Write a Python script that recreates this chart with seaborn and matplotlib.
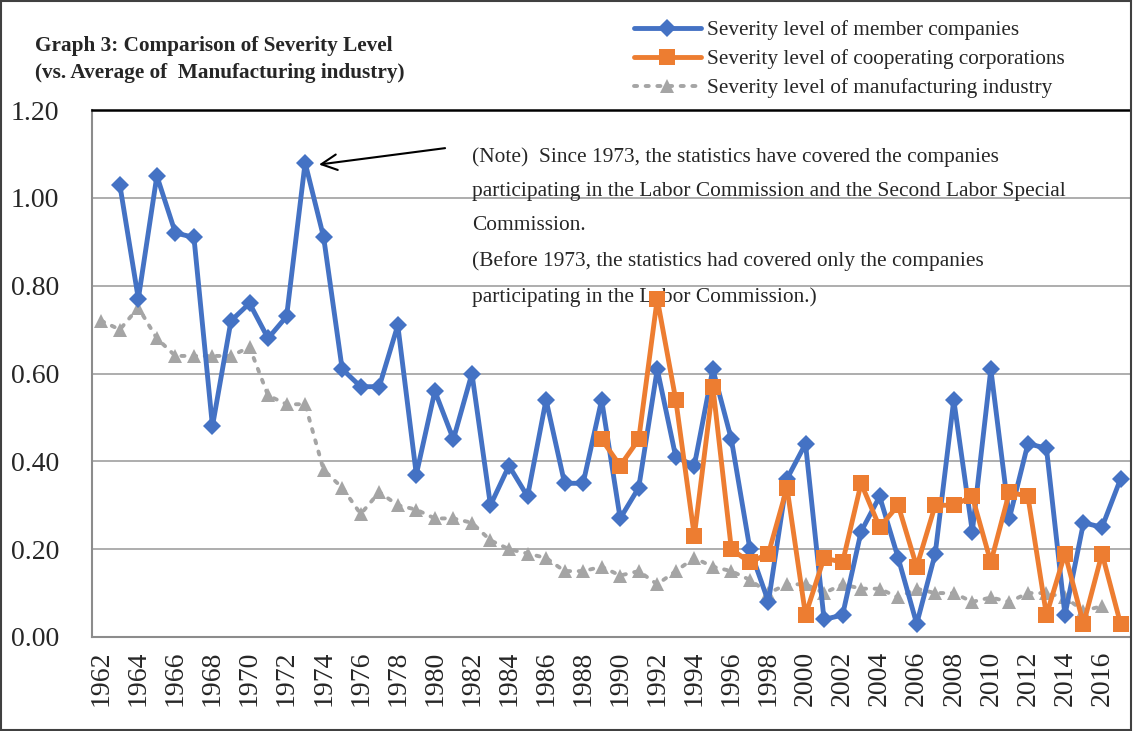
import matplotlib
matplotlib.use("Agg")
import matplotlib.pyplot as plt
import seaborn as sns
import pandas as pd
from matplotlib.patches import Rectangle

member_years = list(range(1963, 2018))
member = [1.03, 0.77, 1.05, 0.92, 0.91, 0.48, 0.72, 0.76, 0.68, 0.73,
          1.08, 0.91, 0.61, 0.57, 0.57, 0.71, 0.37, 0.56, 0.45, 0.60,
          0.30, 0.39, 0.32, 0.54, 0.35, 0.35, 0.54, 0.27, 0.34, 0.61,
          0.41, 0.39, 0.61, 0.45, 0.20, 0.08, 0.36, 0.44, 0.04, 0.05,
          0.24, 0.32, 0.18, 0.03, 0.19, 0.54, 0.24, 0.61, 0.27, 0.44,
          0.43, 0.05, 0.26, 0.25, 0.36]

coop_years = list(range(1989, 2018))
coop = [0.45, 0.39, 0.45, 0.77, 0.54, 0.23, 0.57, 0.20, 0.17, 0.19,
        0.34, 0.05, 0.18, 0.17, 0.35, 0.25, 0.30, 0.16, 0.30, 0.30,
        0.32, 0.17, 0.33, 0.32, 0.05, 0.19, 0.03, 0.19, 0.03]

manuf_years = list(range(1962, 2017))
manuf = [0.72, 0.70, 0.75, 0.68, 0.64, 0.64, 0.64, 0.64, 0.66, 0.55,
         0.53, 0.53, 0.38, 0.34, 0.28, 0.33, 0.30, 0.29, 0.27, 0.27,
         0.26, 0.22, 0.20, 0.19, 0.18, 0.15, 0.15, 0.16, 0.14, 0.15,
         0.12, 0.15, 0.18, 0.16, 0.15, 0.13, 0.10, 0.12, 0.12, 0.10,
         0.12, 0.11, 0.11, 0.09, 0.11, 0.10, 0.10, 0.08, 0.09, 0.08,
         0.10, 0.10, 0.09, 0.06, 0.07]

labels = ["Severity level of member companies",
          "Severity level of cooperating corporations",
          "Severity level of manufacturing industry"]

yticks = [0, 0.2, 0.4, 0.6, 0.8, 1.0, 1.2]

note = ("(Note)  Since 1973, the statistics have covered the companies\n"
        "participating in the Labor Commission and the Second Labor Special\n"
        "Commission.\n"
        "(Before 1973, the statistics had covered only the companies\n"
        "participating in the Labor Commission.)")

sns.set_style("white")
plt.rcParams['font.family'] = ['Liberation Serif', 'DejaVu Serif']

fig = plt.figure(figsize=(11.33, 7.31), dpi=100)
ax = fig.add_axes([0.0812, 0.1286, 0.916, 0.7209])

df_m = pd.DataFrame({"year": member_years, "value": member})
df_c = pd.DataFrame({"year": coop_years, "value": coop})
df_g = pd.DataFrame({"year": manuf_years, "value": manuf})

sns.lineplot(data=df_g, x="year", y="value", ax=ax, color="#A5A5A5",
             linestyle=(0, (0.8, 2.2)), dash_capstyle="round", lw=2.8,
             marker="^", markersize=10, markeredgewidth=0, label=labels[2], zorder=2)
sns.lineplot(data=df_m, x="year", y="value", ax=ax, color="#4472C4", lw=3.5,
             marker="D", markersize=9, markeredgewidth=0, label=labels[0], zorder=3)
sns.lineplot(data=df_c, x="year", y="value", ax=ax, color="#ED7D31", lw=3.5,
             marker="s", markersize=11, markeredgewidth=0, label=labels[1], zorder=4)

ax.set_xlim(1961.5, 2017.5)
ax.set_ylim(0, 1.2)
ax.set_yticks(yticks)
ax.set_yticklabels([f"{v:.2f}" for v in yticks], fontsize=20)
ax.set_xticks(list(range(1962, 2018, 2)))
ax.set_xticklabels([str(y) for y in range(1962, 2018, 2)], rotation=90, fontsize=20)
ax.set_xticks([y + 0.5 for y in range(1961, 2018)], minor=True)
ax.tick_params(axis="x", which="major", length=0, pad=10)
ax.tick_params(axis="x", which="minor", length=6, width=1, color="#8C8C8C", direction="out")
ax.tick_params(axis="y", length=6.5, width=1, color="#8C8C8C", direction="out", pad=17)
ax.grid(axis="y", color="#A0A0A0", lw=1.2)
ax.set_axisbelow(True)
ax.set_xlabel("")
ax.set_ylabel("")
for s in ["left", "bottom"]:
    ax.spines[s].set_color("#8C8C8C")
    ax.spines[s].set_linewidth(1.5)
ax.spines["top"].set_color("black")
ax.spines["top"].set_linewidth(1.8)
ax.spines["right"].set_visible(False)

ax.text(1982.0, 1.115, note, fontsize=15.4, va="top", ha="left", linespacing=2.08, zorder=1)
ax.annotate("", xy=(1973.6, 1.075), xytext=(1980.7, 1.114),
            arrowprops=dict(arrowstyle="->", color="black", lw=1.5, mutation_scale=28))

h, l = ax.get_legend_handles_labels()
order = [1, 2, 0]
ax.get_legend().remove()
fig.legend([h[i] for i in order], [l[i] for i in order], loc="upper left",
           bbox_to_anchor=(0.552, 0.984), frameon=False, fontsize=15.3,
           handlelength=3.15, handletextpad=0.3, labelspacing=0.43, borderaxespad=0)

fig.text(0.031, 0.937, "Graph 3: Comparison of Severity Level", fontsize=15.3,
         fontweight="bold", va="center")
fig.text(0.031, 0.900, "(vs. Average of  Manufacturing industry)", fontsize=15.3,
         fontweight="bold", va="center")

fig.add_artist(Rectangle((0.001, 0.001), 0.997, 0.997, transform=fig.transFigure,
                         fill=False, edgecolor="#404040", lw=1.5))

fig.savefig("out.png", dpi=100)
